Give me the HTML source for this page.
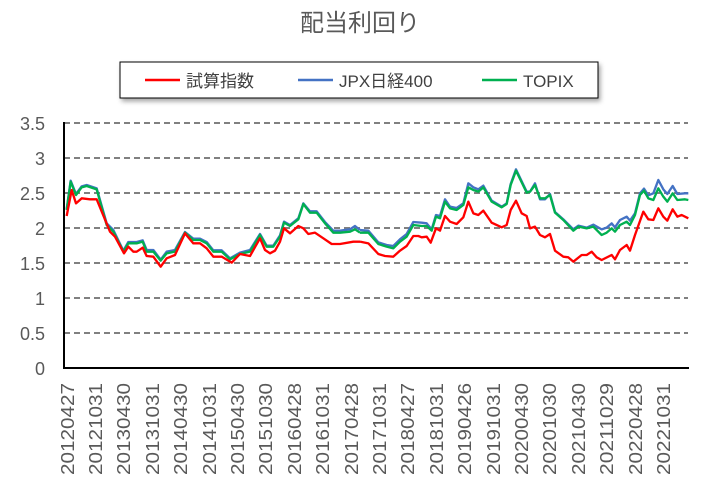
<!DOCTYPE html>
<html><head><meta charset="utf-8"><style>
body{margin:0;background:#fff;}
svg{display:block;font-family:"Liberation Sans","Noto Sans CJK JP",sans-serif;}
</style></head><body>
<svg width="721" height="488" viewBox="0 0 721 488" xmlns="http://www.w3.org/2000/svg">
<defs><filter id="sh" x="-5%" y="-20%" width="110%" height="160%"><feDropShadow dx="2" dy="3" stdDeviation="2.5" flood-color="#000" flood-opacity="0.35"/></filter></defs>
<text x="360" y="31" text-anchor="middle" font-size="24" fill="#595959">配当利回り</text>
<rect x="120" y="62" width="478" height="36" fill="#fff" stroke="#000" stroke-width="1" filter="url(#sh)"/>
<line x1="145" y1="80" x2="180" y2="80" stroke="#ff0000" stroke-width="2.5"/>
<text x="186" y="87" font-size="17" fill="#404040">試算指数</text>
<line x1="298" y1="80" x2="333" y2="80" stroke="#4472c4" stroke-width="2.5"/>
<text x="339" y="87" font-size="17" fill="#404040">JPX日経400</text>
<line x1="482" y1="80" x2="517" y2="80" stroke="#00b050" stroke-width="2.5"/>
<text x="523" y="87" font-size="17" fill="#404040">TOPIX</text>
<g stroke="#808080" stroke-width="2" stroke-dasharray="6,4">
<line x1="64" y1="123" x2="688" y2="123"/><line x1="64" y1="158" x2="688" y2="158"/><line x1="64" y1="193" x2="688" y2="193"/><line x1="64" y1="228" x2="688" y2="228"/><line x1="64" y1="263" x2="688" y2="263"/><line x1="64" y1="298" x2="688" y2="298"/><line x1="64" y1="333" x2="688" y2="333"/>
</g>
<g font-size="18" fill="#595959" text-anchor="end">
<text x="45" y="130">3.5</text><text x="45" y="165">3</text><text x="45" y="200">2.5</text><text x="45" y="235">2</text><text x="45" y="270">1.5</text><text x="45" y="305">1</text><text x="45" y="340">0.5</text><text x="45" y="375">0</text>
</g>
<g fill="none" stroke-width="2.3" stroke-linejoin="round">
<g transform="translate(0,100) scale(0.33333)">
<polyline stroke="#4472c4" stroke-width="7" points="200,327 212,242 228,282 245,259 260,255 290,265 320,370 340,390 370,452 385,426 410,426 428,421 440,450 460,450 482,479 500,455 525,450 555,396 580,416 600,416 620,426 640,451 665,451 690,475 720,458 750,450 780,402 800,437 820,437 840,406 852,365 870,375 895,355 910,310 930,334 950,334 975,366 1000,392 1020,392 1050,388 1065,378 1080,390"/>
<polyline stroke="#00b050" stroke-width="7" points="200,330 212,245 228,285 245,262 260,258 290,268 320,375 340,395 370,455 385,430 410,430 428,425 440,455 460,455 482,482 500,460 525,455 555,398 580,420 600,420 620,430 640,455 665,455 690,478 720,462 750,455 780,405 800,440 820,440 840,410 852,368 870,378 895,358 910,312 930,338 950,338 975,370 1000,398 1020,398 1050,395 1065,388 1080,398"/>
<polyline stroke="#ff0000" stroke-width="7" points="200,348 215,270 228,310 245,295 270,298 290,298 330,395 345,410 372,460 385,440 400,455 410,455 428,443 440,468 460,470 482,500 500,475 525,465 555,400 580,430 600,430 620,445 640,470 665,470 695,488 720,462 750,468 780,415 795,450 810,460 825,452 840,425 852,385 870,400 895,378 910,385 925,402 945,398 970,415 995,432 1020,432 1060,425 1080,425"/>
</g>
<g transform="translate(360,100) scale(0.33333)">
<polyline stroke="#4472c4" stroke-width="7" points="0,390 25,392 55,427 80,435 100,438 120,418 140,402 160,366 185,368 200,370 215,388 228,345 240,348 255,298 270,320 290,324 310,310 325,250 340,262 355,268 370,257 395,302 425,320 440,310 452,252 468,208 500,275 510,275 525,250 540,298 555,298 570,282 585,336 610,358 640,388 655,377 680,383 700,374 725,388 740,383 755,370 765,382 780,360 800,350 810,362 825,340 840,280 852,266 865,286 880,280 895,240 910,268 922,282 938,258 952,282 975,280 985,280"/>
<polyline stroke="#00b050" stroke-width="7" points="0,398 25,398 55,432 80,440 100,445 120,425 140,410 160,375 185,378 200,378 215,392 228,350 240,355 255,305 270,325 290,330 310,315 325,262 340,270 355,275 370,262 395,305 425,322 440,312 452,255 468,212 500,278 510,275 525,255 540,295 555,295 570,285 585,338 610,360 640,392 655,380 680,385 700,380 725,405 740,398 755,385 765,395 780,375 800,365 810,375 825,345 840,285 852,272 865,295 880,300 895,265 910,290 922,305 938,280 952,300 975,298 985,300"/>
<polyline stroke="#ff0000" stroke-width="7" points="0,425 25,430 55,462 75,468 100,470 120,452 140,438 160,408 175,408 185,412 200,410 212,428 228,385 240,392 255,348 270,365 290,372 310,352 325,305 340,340 355,345 370,332 395,368 425,382 440,375 452,330 468,302 485,340 500,348 510,385 525,380 540,405 555,412 570,402 585,452 610,470 625,472 640,485 665,465 680,465 695,455 710,472 725,480 755,465 765,478 780,450 800,435 810,452 825,405 850,335 865,358 880,360 895,325 910,350 922,362 938,328 952,350 965,345 985,355"/>
</g>
</g>
<line x1="64" y1="122" x2="64" y2="369" stroke="#000" stroke-width="2"/>
<line x1="63" y1="368" x2="689" y2="368" stroke="#000" stroke-width="2"/>
<g font-size="18" fill="#595959">
<text transform="translate(74,475) rotate(-90)" textLength="92" lengthAdjust="spacingAndGlyphs">20120427</text>
<text transform="translate(102,475) rotate(-90)" textLength="92" lengthAdjust="spacingAndGlyphs">20121031</text>
<text transform="translate(130,475) rotate(-90)" textLength="92" lengthAdjust="spacingAndGlyphs">20130430</text>
<text transform="translate(159,475) rotate(-90)" textLength="92" lengthAdjust="spacingAndGlyphs">20131031</text>
<text transform="translate(187,475) rotate(-90)" textLength="92" lengthAdjust="spacingAndGlyphs">20140430</text>
<text transform="translate(216,475) rotate(-90)" textLength="92" lengthAdjust="spacingAndGlyphs">20141031</text>
<text transform="translate(244,475) rotate(-90)" textLength="92" lengthAdjust="spacingAndGlyphs">20150430</text>
<text transform="translate(272,475) rotate(-90)" textLength="92" lengthAdjust="spacingAndGlyphs">20151030</text>
<text transform="translate(301,475) rotate(-90)" textLength="92" lengthAdjust="spacingAndGlyphs">20160428</text>
<text transform="translate(329,475) rotate(-90)" textLength="92" lengthAdjust="spacingAndGlyphs">20161031</text>
<text transform="translate(358,475) rotate(-90)" textLength="92" lengthAdjust="spacingAndGlyphs">20170428</text>
<text transform="translate(386,475) rotate(-90)" textLength="92" lengthAdjust="spacingAndGlyphs">20171031</text>
<text transform="translate(414,475) rotate(-90)" textLength="92" lengthAdjust="spacingAndGlyphs">20180427</text>
<text transform="translate(443,475) rotate(-90)" textLength="92" lengthAdjust="spacingAndGlyphs">20181031</text>
<text transform="translate(471,475) rotate(-90)" textLength="92" lengthAdjust="spacingAndGlyphs">20190426</text>
<text transform="translate(500,475) rotate(-90)" textLength="92" lengthAdjust="spacingAndGlyphs">20191031</text>
<text transform="translate(528,475) rotate(-90)" textLength="92" lengthAdjust="spacingAndGlyphs">20200430</text>
<text transform="translate(556,475) rotate(-90)" textLength="92" lengthAdjust="spacingAndGlyphs">20201030</text>
<text transform="translate(585,475) rotate(-90)" textLength="92" lengthAdjust="spacingAndGlyphs">20210430</text>
<text transform="translate(613,475) rotate(-90)" textLength="92" lengthAdjust="spacingAndGlyphs">20211029</text>
<text transform="translate(642,475) rotate(-90)" textLength="92" lengthAdjust="spacingAndGlyphs">20220428</text>
<text transform="translate(670,475) rotate(-90)" textLength="92" lengthAdjust="spacingAndGlyphs">20221031</text>
</g>
</svg>
</body></html>
